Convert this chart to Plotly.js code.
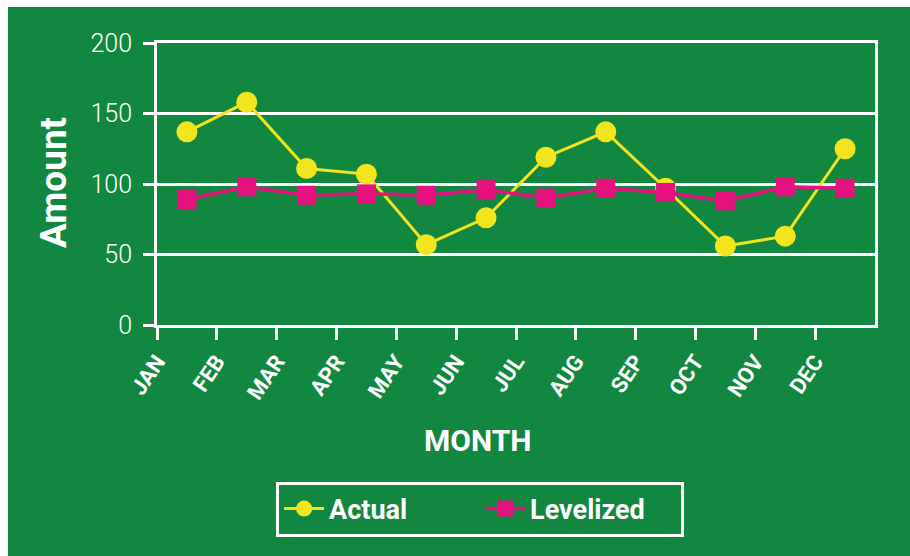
<!DOCTYPE html>
<html>
<head>
<meta charset="utf-8">
<script src="https://cdn.plot.ly/plotly-3.0.1.min.js"></script>
<style>
html,body{margin:0;padding:0;background:#ffffff;width:910px;height:556px;overflow:hidden;}
#chart{position:absolute;left:8px;top:7px;width:902px;height:549px;}
</style>
</head>
<body>
<div id="chart"></div>
<script>
const months = ["JAN","FEB","MAR","APR","MAY","JUN","JUL","AUG","SEP","OCT","NOV","DEC"];
const actual = [137, 158, 111, 107, 57, 76, 119, 137, 97, 56, 63, 125];
const levelized = [89, 98, 92, 93, 92, 96, 90, 97, 94, 88, 98, 97];

const green = "#12873f";
const white = "#ffffff";
const tickPos = months.map((m, i) => i);
const pointPos = months.map((m, i) => i + 0.5);

const traces = [
  {
    x: pointPos, y: actual, name: "Actual", type: "scatter", mode: "lines+markers",
    line: {color: "#f3e51d", width: 3},
    marker: {symbol: "circle", size: 21, color: "#f3e51d"}
  },
  {
    x: pointPos, y: levelized, name: "Levelized", type: "scatter", mode: "lines+markers",
    line: {color: "#e5127f", width: 3.5},
    marker: {symbol: "square", size: 19, color: "#e5127f"}
  }
];

const layout = {
  width: 902, height: 549,
  paper_bgcolor: green, plot_bgcolor: green,
  margin: {l: 149, r: 35, t: 36, b: 231},
  showlegend: true,
  xaxis: {
    range: [0, 12], tickmode: "array", tickvals: tickPos, ticktext: months,
    showgrid: false, zeroline: false,
    showline: true, linecolor: white, linewidth: 3, mirror: true,
    ticks: "outside", ticklen: 12, tickwidth: 3, tickcolor: white,
    tickangle: -56,
    tickfont: {family: "Roboto, sans-serif", size: 22, color: white, weight: "bold"}
  },
  yaxis: {
    range: [0, 200], tickmode: "array", tickvals: [0, 50, 100, 150, 200],
    showgrid: true, gridcolor: white, gridwidth: 3, zeroline: false,
    showline: true, linecolor: white, linewidth: 3, mirror: true,
    ticks: "outside", ticklen: 11, tickwidth: 3, tickcolor: white,
    ticklabelstandoff: 6,
    tickfont: {family: "Roboto, sans-serif", size: 25, color: white, weight: 300}
  },
  legend: {
    orientation: "h", x: 0.45, xanchor: "center", y: -0.555, yanchor: "top",
    bgcolor: green, bordercolor: white, borderwidth: 3,
    font: {family: "Roboto, sans-serif", size: 27, color: white, weight: "bold"},
    itemwidth: 40, entrywidth: 146
  },
  annotations: [
    {text: "MONTH", xref: "paper", yref: "paper", x: 0.4457, y: -0.411,
     xanchor: "center", yanchor: "middle", showarrow: false,
     font: {family: "Roboto, sans-serif", size: 30, color: white, weight: "bold"}},
    {text: "Amount", xref: "paper", yref: "paper", x: -0.1448, y: 0.5035,
     xanchor: "center", yanchor: "middle", showarrow: false, textangle: -90,
     font: {family: "Roboto, sans-serif", size: 37, color: white, weight: "bold"}}
  ]
};

Plotly.newPlot("chart", traces, layout, {displayModeBar: false, staticPlot: true});
</script>
</body>
</html>
